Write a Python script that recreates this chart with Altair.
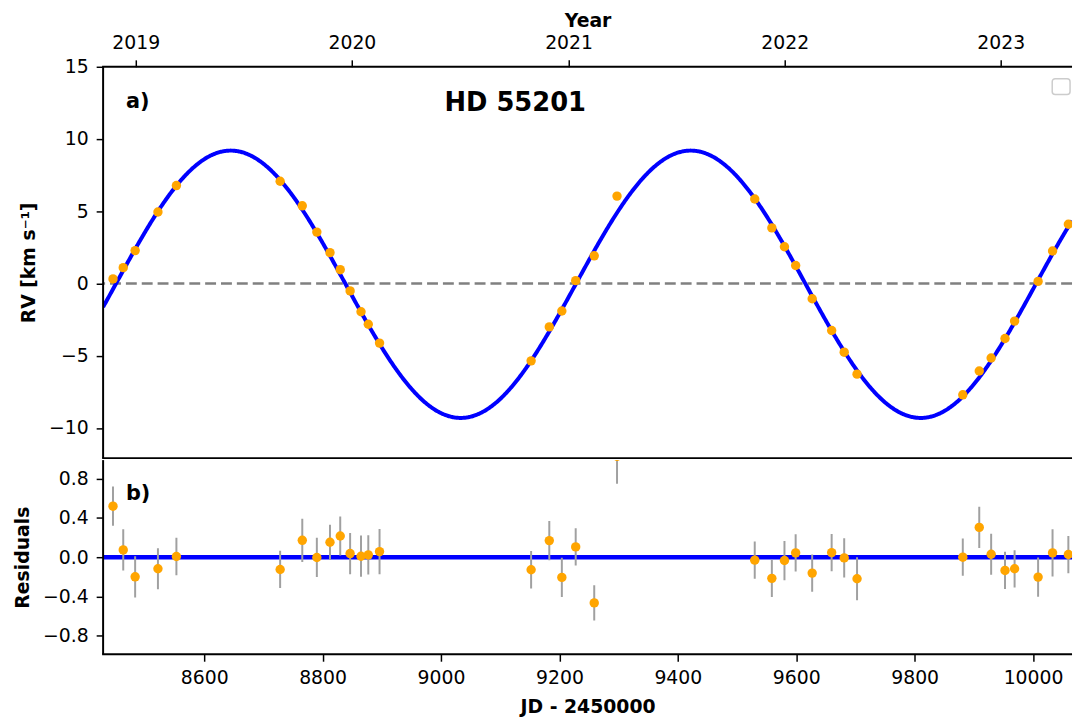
import numpy as np
import pandas as pd
import altair as alt

# ---------------- data ----------------
JD = [8446.0, 8463.3, 8483.4, 8521.9, 8553.1, 8728.3, 8765.7, 8790.3, 8812.5,
      8829.8, 8846.5, 8864.9, 8877.2, 8896.2, 9152.2, 9182.9, 9204.1, 9227.5,
      9258.8, 9297.3, 9529.9, 9558.8, 9580.1, 9599.0, 9626.9, 9659.8, 9681.0,
      9702.7, 9881.3, 9909.1, 9929.2, 9952.6, 9968.8, 10008.5, 10032.9, 10059.6]
RV = [0.32, 1.10, 2.28, 4.95, 6.78, 7.08, 5.38, 3.56, 2.14,
      0.96, -0.51, -1.95, -2.82, -4.12, -5.35, -3.00, -1.90, 0.20,
      1.92, 6.05, 5.85, 3.85, 2.55, 1.25, -1.05, -3.25, -4.75,
      -6.27, -7.70, -6.05, -5.15, -3.80, -2.60, 0.15, 2.25, 4.10]
RESID = [0.52, 0.074, -0.20, -0.118, 0.007, -0.125, 0.172, -0.003, 0.152,
         0.216, 0.037, 0.01, 0.024, 0.057, -0.128, 0.169, -0.206, 0.105,
         -0.466, 1.03, -0.03, -0.216, -0.034, 0.044, -0.162, 0.047, -0.007,
         -0.22, 0.0, 0.304, 0.03, -0.135, -0.118, -0.203, 0.044, 0.027]
RESID_ERR = [0.20, 0.21, 0.21, 0.21, 0.19, 0.19, 0.22, 0.20, 0.18,
             0.20, 0.21, 0.21, 0.20, 0.23, 0.19, 0.20, 0.20, 0.19,
             0.18, 0.28, 0.19, 0.19, 0.20, 0.19, 0.19, 0.19, 0.20,
             0.22, 0.19, 0.21, 0.21, 0.19, 0.19, 0.20, 0.24, 0.19]

# fitted orbit (circular) parameters
K_AMP = 9.25        # km/s
PERIOD = 777.0      # days
T_DESC = 8839.0     # descending zero crossing (JD - 2450000)
GAMMA = -0.05       # km/s

X_DOMAIN = [8429.3, 10065.8]
X_TICKS = [8600, 8800, 9000, 9200, 9400, 9600, 9800, 10000]
YEAR_TICK_JD = [8484.5, 8849.5, 9215.5, 9580.5, 9945.5]
YEAR_LABELS = ["2019", "2020", "2021", "2022", "2023"]
RV_DOMAIN = [-12.08, 15.0]
RV_TICKS = [-10, -5, 0, 5, 10, 15]
RES_DOMAIN = [-0.99, 0.99]
RES_TICKS = [-0.8, -0.4, 0.0, 0.4, 0.8]
TITLE = "HD 55201"

# ---------------- tables ----------------
obs = pd.DataFrame({"jd": JD, "rv": RV, "res": RESID, "err": RESID_ERR})
obs["lo"] = obs["res"] - obs["err"]
obs["hi"] = obs["res"] + obs["err"]

t = np.linspace(X_DOMAIN[0], X_DOMAIN[1], 1200)
model = pd.DataFrame({"jd": t,
                      "rv": GAMMA - K_AMP * np.sin(2 * np.pi * (t - T_DESC) / PERIOD)})

FONT = "DejaVu Sans"
W = 978
H_TOP = 395
H_BOT = 196
one = pd.DataFrame({"k": [0]})

xscale = alt.Scale(domain=X_DOMAIN, nice=False, zero=False)

label_expr = " : ".join(
    f"datum.value == {v} ? '{lab}'" for v, lab in zip(YEAR_TICK_JD, YEAR_LABELS)
) + " : ''"

year_axis = alt.Axis(orient="top", values=YEAR_TICK_JD, labelExpr=label_expr,
                     title="Year", titlePadding=4, labelPadding=7)

rv_scale = alt.Scale(domain=RV_DOMAIN, nice=False, zero=False)
rv_axis = alt.Axis(values=RV_TICKS, format="d", title="RV [km s⁻¹]")


def frame(h, top_edge=True, bottom_edge=True):
    """axes spines (left / top / bottom) – the right spine is outside the picture"""
    parts = [alt.Chart(one).mark_rule(color="black", strokeWidth=2).encode(
        x=alt.value(0), y=alt.value(0), y2=alt.value(h))]
    if top_edge:
        parts.append(alt.Chart(one).mark_rule(color="black", strokeWidth=2).encode(
            y=alt.value(0), x=alt.value(-1), x2=alt.value(W)))
    if bottom_edge:
        parts.append(alt.Chart(one).mark_rule(color="black", strokeWidth=2).encode(
            y=alt.value(h), x=alt.value(-1), x2=alt.value(W)))
    return parts


# ---------------- top panel ----------------
zero_dash = alt.Chart(pd.DataFrame({"z": [0.0]})).mark_rule(
    color="#808080", strokeWidth=2.5, strokeDash=[11, 5]
).encode(y=alt.Y("z:Q", scale=rv_scale, axis=rv_axis))

curve = alt.Chart(model).mark_line(color="#0000ff", strokeWidth=4, clip=True).encode(
    x=alt.X("jd:Q", scale=xscale, axis=year_axis),
    y=alt.Y("rv:Q", scale=rv_scale, axis=rv_axis),
)

pts_top = alt.Chart(obs).mark_circle(color="#ffa500", size=90, opacity=1, clip=True).encode(
    x=alt.X("jd:Q", scale=xscale, axis=year_axis),
    y=alt.Y("rv:Q", scale=rv_scale, axis=rv_axis),
)

title_txt = alt.Chart(pd.DataFrame({"s": [TITLE]})).mark_text(
    font=FONT, fontSize=26, fontWeight="bold", align="center", baseline="alphabetic",
    color="black"
).encode(text="s:N", x=alt.value(416), y=alt.value(44.5))

a_txt = alt.Chart(pd.DataFrame({"s": ["a)"]})).mark_text(
    font=FONT, fontSize=21, fontWeight="bold", align="left", baseline="alphabetic",
    color="black"
).encode(text="s:N", x=alt.value(23), y=alt.value(42))

legend_box = alt.Chart(one).mark_rect(
    fill="white", stroke="#cccccc", strokeWidth=1.5, cornerRadius=3
).encode(x=alt.value(958), x2=alt.value(976), y=alt.value(12), y2=alt.value(28))

top = alt.layer(zero_dash, curve, pts_top, title_txt, a_txt, legend_box,
                *frame(H_TOP, True, True)).properties(width=W, height=H_TOP)

# ---------------- bottom panel ----------------
res_scale = alt.Scale(domain=RES_DOMAIN, nice=False, zero=False)
y_bot_axis = alt.Axis(values=RES_TICKS, format=".1f", title="Residuals")
x_bot_axis = alt.Axis(values=X_TICKS, format="d", title="JD - 2450000", titlePadding=10)

zero_line = alt.Chart(pd.DataFrame({"z": [0.0]})).mark_rule(
    color="#0000ff", strokeWidth=4.5
).encode(y=alt.Y("z:Q", scale=res_scale, axis=y_bot_axis))

bars = alt.Chart(obs).mark_rule(color="#a0a0a0", strokeWidth=2, clip=True).encode(
    x=alt.X("jd:Q", scale=xscale, axis=x_bot_axis),
    y=alt.Y("lo:Q", scale=res_scale, axis=y_bot_axis),
    y2="hi:Q",
)

pts_bot = alt.Chart(obs).mark_circle(color="#ffa500", size=90, opacity=1, clip=True).encode(
    x=alt.X("jd:Q", scale=xscale, axis=x_bot_axis),
    y=alt.Y("res:Q", scale=res_scale, axis=y_bot_axis),
)

b_txt = alt.Chart(pd.DataFrame({"s": ["b)"]})).mark_text(
    font=FONT, fontSize=21, fontWeight="bold", align="left", baseline="alphabetic",
    color="black"
).encode(text="s:N", x=alt.value(23), y=alt.value(40.6))

bottom = alt.layer(zero_line, bars, pts_bot, b_txt,
                   *frame(H_BOT, False, True)).properties(width=W, height=H_BOT)

chart = alt.vconcat(top, bottom, spacing=0).resolve_scale(
    x="independent", y="independent"
).properties(
    padding={"left": 5, "top": 0, "right": 0, "bottom": 0}
).configure(
    background="white"
).configure_view(
    stroke=None
).configure_axis(
    labelFont=FONT, labelFontSize=19, labelColor="black",
    titleFont=FONT, titleFontSize=19, titleFontWeight="bold", titleColor="black",
    tickColor="black", tickWidth=1.5, tickSize=7, labelPadding=8,
    grid=False, domain=False, titlePadding=10,
)

chart.save("out.html", embed_options={"renderer": "svg", "actions": False})
